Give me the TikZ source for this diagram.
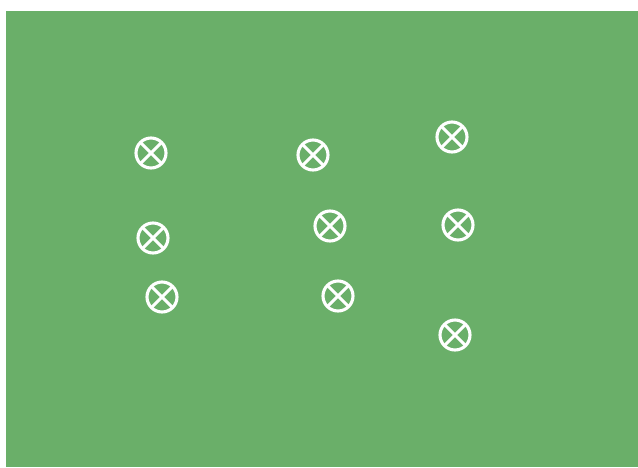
\documentclass[tikz,border=0pt]{standalone}
\usetikzlibrary{calc}
\definecolor{fieldgreen}{RGB}{106,175,105}
\begin{document}
\begin{tikzpicture}[x=1pt,y=-1pt,
  xmark/.style={circle,draw=white,line width=3.1pt,minimum size=30pt,inner sep=0pt,
    path picture={\draw[white,line width=2.9pt]
      ($(path picture bounding box.center)+(45:16pt)$) -- ($(path picture bounding box.center)+(225:16pt)$)
      ($(path picture bounding box.center)+(135:16pt)$) -- ($(path picture bounding box.center)+(315:16pt)$);}}]
\useasboundingbox (0,0) rectangle (638,467);
\fill[white] (0,0) rectangle (638,467);
\fill[fieldgreen] (6,11) rectangle (638,467);
\node[xmark] (a1) at (151,153) {};
\node[xmark] (a2) at (313,155) {};
\node[xmark] (a3) at (452,137) {};
\node[xmark] (b1) at (153,238) {};
\node[xmark] (b2) at (330,226) {};
\node[xmark] (b3) at (458,225) {};
\node[xmark] (c1) at (162,297) {};
\node[xmark] (c2) at (338,296) {};
\node[xmark] (c3) at (455,335) {};
\end{tikzpicture}
\end{document}
